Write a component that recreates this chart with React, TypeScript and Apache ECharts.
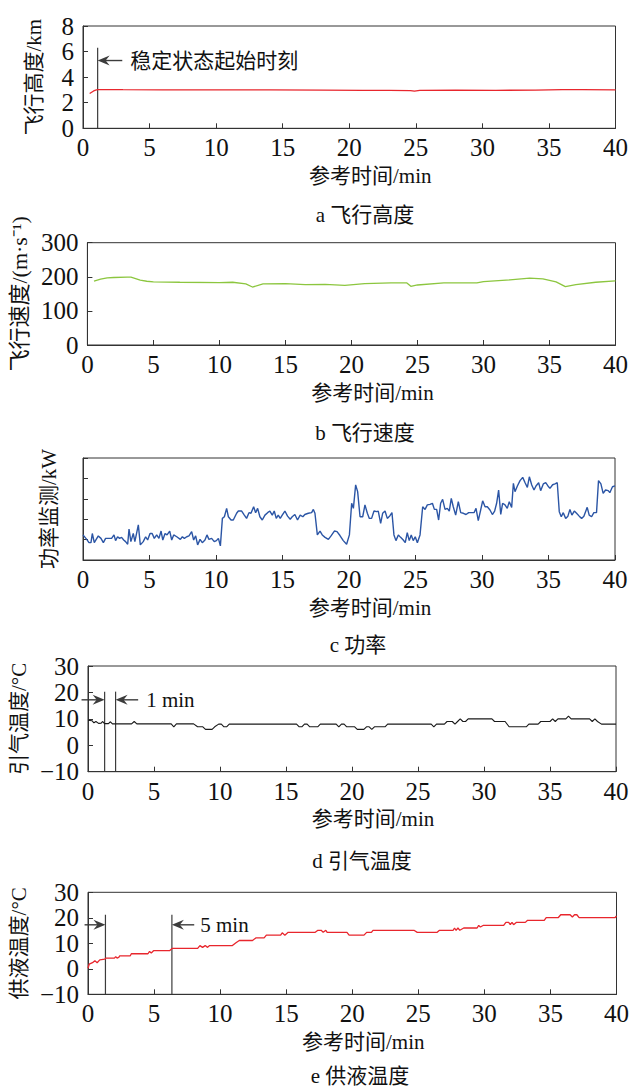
import { useEffect, useRef } from "react";
import * as echarts from "echarts";

// ---------- data ----------
const altT = [0.5, 0.65, 0.8, 0.95, 1.1, 1.5, 3, 6, 10, 14, 18, 21, 23, 24.6, 24.9, 25.3, 28, 31, 34, 36, 37.5, 40];
const altV = [2.72, 2.82, 2.92, 2.99, 3.02, 3.03, 3.02, 3.01, 3.0, 3.0, 2.99, 2.97, 2.96, 2.95, 2.9, 2.97, 2.98, 2.97, 2.99, 3.02, 3.03, 3.0];

const spdT = [0.5, 1.0, 1.5, 2, 3, 3.3, 4, 4.5, 5, 7, 10, 11, 12, 12.5, 13.3, 15, 16.5, 18, 19.5, 21, 23, 24.2, 24.5, 25, 27, 29.5, 30, 32, 33.5, 34.5, 35.5, 36.2, 37, 38.5, 40];
const spdV = [187, 193, 197, 198, 199, 199, 190, 187, 185, 184, 183, 184, 179, 170, 179, 180, 177, 178, 175, 180, 182, 182, 172, 176, 182, 182, 186, 191, 196, 194, 185, 171, 177, 184, 188];

const powT = [0, 0.28, 0.45, 0.6, 0.7, 0.85, 1.15, 1.35, 1.53, 1.7, 2.15, 2.33, 2.45, 2.6, 2.75, 2.9, 3.06, 3.2, 3.36, 3.46, 3.6, 3.78, 3.9, 4.16, 4.31, 4.53, 4.71, 4.86, 5.04, 5.2, 5.36, 5.54, 5.71, 5.87, 6.0, 6.17, 6.32, 6.52, 6.67, 6.82, 7.05, 7.32, 7.47, 7.62, 7.8, 7.97, 8.17, 8.32, 8.47, 8.62, 8.8, 8.97, 9.17, 9.32, 9.47, 9.67, 9.87, 10.03, 10.18, 10.33, 10.48, 10.63, 10.8, 10.93, 11.13, 11.3, 11.55, 11.68, 11.93, 12.13, 12.3, 12.48, 12.63, 12.83, 12.98, 13.13, 13.3, 13.48, 13.68, 13.88, 14.05, 14.23, 14.38, 14.53, 14.68, 14.83, 14.98, 15.18, 15.38, 15.58, 15.73, 15.93, 16.13, 16.33, 16.53, 16.68, 16.94, 17.19, 17.32, 17.44, 17.62, 17.82, 17.99, 18.2, 18.45, 18.65, 18.9, 19.1, 19.32, 19.57, 19.82, 20.03, 20.2, 20.33, 20.5, 20.65, 20.83, 21.03, 21.2, 21.38, 21.53, 21.7, 21.88, 22.08, 22.2, 22.38, 22.53, 22.71, 22.88, 23.08, 23.23, 23.38, 23.53, 23.71, 23.88, 24.08, 24.23, 24.38, 24.53, 24.68, 24.83, 24.98, 25.14, 25.34, 25.54, 25.72, 25.89, 26.09, 26.27, 26.42, 26.59, 26.74, 26.89, 27.04, 27.22, 27.39, 27.54, 27.69, 27.84, 28.02, 28.22, 28.4, 28.6, 28.8, 29.0, 29.22, 29.4, 29.55, 29.72, 29.9, 30.05, 30.23, 30.4, 30.6, 30.78, 30.95, 31.1, 31.25, 31.41, 31.55, 31.73, 31.9, 32.05, 32.23, 32.36, 32.48, 32.66, 32.86, 33.06, 33.24, 33.41, 33.56, 33.74, 33.91, 34.06, 34.26, 34.41, 34.61, 34.79, 34.96, 35.11, 35.31, 35.49, 35.66, 35.81, 35.96, 36.11, 36.29, 36.46, 36.61, 36.76, 36.94, 37.11, 37.31, 37.49, 37.66, 37.91, 38.06, 38.24, 38.41, 38.61, 38.76, 38.94, 39.11, 39.29, 39.49, 39.61, 39.81, 40];
const powV = [1.23, 1.01, 0.85, 0.85, 1.3, 0.85, 1.18, 1.06, 0.85, 1.06, 1.06, 1.23, 0.95, 1.14, 1.06, 1.11, 0.98, 0.9, 0.77, 1.52, 0.9, 1.3, 0.9, 1.72, 0.74, 0.9, 1.14, 0.98, 1.3, 1.3, 1.06, 1.23, 1.06, 1.42, 0.98, 1.3, 1.23, 1.42, 0.98, 1.23, 1.14, 1.01, 1.14, 1.06, 1.14, 1.18, 1.39, 0.98, 1.18, 0.74, 1.01, 0.85, 0.98, 1.23, 1.01, 1.06, 0.9, 0.95, 1.06, 0.69, 2.04, 2.12, 2.53, 2.12, 1.96, 1.96, 2.29, 2.4, 2.4, 2.2, 2.04, 2.32, 2.29, 2.61, 2.32, 2.53, 2.12, 1.96, 2.2, 2.32, 2.4, 2.2, 2.4, 2.04, 2.2, 2.04, 2.2, 2.4, 2.15, 2.0, 2.12, 2.23, 1.96, 2.2, 2.12, 2.23, 2.29, 2.32, 2.48, 2.29, 1.23, 1.42, 1.23, 1.11, 1.01, 1.18, 1.42, 1.39, 1.2, 0.95, 0.77, 1.23, 2.78, 2.53, 3.68, 3.35, 2.12, 2.12, 2.7, 2.29, 2.04, 2.04, 2.4, 2.37, 2.4, 1.8, 2.29, 2.4, 2.04, 2.17, 2.32, 1.23, 0.95, 1.23, 1.11, 0.98, 0.85, 1.34, 0.95, 1.23, 0.95, 1.14, 0.85, 1.23, 2.61, 2.48, 2.7, 2.73, 2.78, 2.48, 2.48, 1.96, 2.78, 2.97, 2.48, 2.53, 2.4, 3.02, 2.61, 2.2, 2.86, 2.32, 2.29, 2.23, 2.32, 2.32, 2.32, 2.53, 1.93, 2.45, 2.9, 2.61, 2.61, 2.45, 2.23, 2.4, 2.78, 3.43, 2.23, 2.78, 2.7, 2.53, 2.86, 2.58, 3.76, 3.35, 3.63, 3.89, 4.05, 3.79, 3.56, 4.08, 3.68, 3.43, 3.63, 3.79, 3.4, 3.73, 3.79, 3.63, 3.51, 3.69, 3.73, 3.79, 2.37, 2.12, 2.32, 2.04, 2.15, 2.48, 2.2, 2.4, 2.29, 2.15, 2.04, 2.15, 2.58, 2.2, 2.12, 2.32, 2.32, 3.89, 3.73, 3.27, 3.43, 3.4, 3.3, 3.59, 3.63];

const bleedT = [0, 0.3, 0.45, 0.6, 0.8, 1.0, 1.1, 1.25, 1.55, 1.7, 1.85, 3.3, 3.5, 3.7, 6.3, 6.5, 6.7, 8.0, 8.3, 8.7, 8.9, 9.4, 9.6, 9.9, 10.1, 10.3, 10.5, 10.7, 15.8, 16.0, 16.2, 16.4, 16.6, 16.8, 17.4, 17.6, 18.8, 19.0, 19.2, 19.4, 19.6, 20.2, 20.4, 20.9, 21.1, 21.3, 21.5, 21.7, 22.5, 22.7, 26.0, 26.2, 26.4, 27.0, 27.2, 27.6, 27.8, 28.0, 28.2, 28.4, 28.6, 28.8, 30.6, 30.8, 31.6, 31.9, 33.2, 33.4, 34.1, 34.3, 35.0, 35.2, 35.4, 35.6, 36.2, 36.4, 36.6, 38.0, 38.2, 38.4, 38.6, 38.9, 40];
const bleedV = [9.5, 9.3, 8.5, 9.0, 8.3, 8.4, 9.0, 8.2, 8.2, 8.9, 8.1, 8.1, 9.0, 8.1, 8.1, 7.0, 8.1, 8.1, 7.0, 7.0, 6.0, 6.0, 7.0, 8.0, 8.0, 7.0, 7.0, 8.0, 8.0, 7.0, 7.0, 8.0, 8.0, 7.0, 7.0, 8.0, 8.0, 7.0, 8.0, 8.0, 7.0, 7.0, 6.0, 6.0, 7.0, 7.0, 6.0, 7.0, 7.0, 8.0, 8.0, 7.0, 8.0, 8.0, 9.0, 9.0, 8.0, 9.0, 10.0, 9.0, 9.0, 10.0, 10.0, 9.0, 9.0, 7.0, 7.0, 8.0, 8.0, 9.0, 9.0, 10.0, 9.0, 10.0, 10.0, 11.0, 10.0, 10.0, 9.0, 10.0, 9.0, 8.0, 8.0];

const supT = [0, 0.09, 0.34, 0.52, 0.69, 0.89, 1.27, 1.35, 2.0, 2.1, 2.2, 2.35, 2.4, 3.2, 3.28, 4.54, 4.66, 4.79, 4.96, 6.17, 6.37, 8.3, 8.47, 8.67, 8.87, 9.05, 9.2, 10.93, 11.2, 11.45, 12.45, 12.7, 13.33, 13.5, 14.58, 14.7, 14.9, 15.15, 17.2, 17.4, 17.65, 17.8, 18.0, 18.1, 19.6, 19.76, 20.89, 21.09, 21.45, 21.57, 24.67, 24.92, 26.43, 26.6, 27.64, 27.74, 27.86, 28.0, 28.14, 28.44, 29.45, 29.57, 29.7, 29.9, 31.46, 31.63, 31.84, 31.96, 32.09, 32.21, 32.41, 33.1, 33.27, 34.53, 34.68, 35.6, 35.78, 36.49, 36.66, 36.82, 37.0, 37.17, 39.9, 40];
const supV = [0.2, 1.8, 2.4, 3.2, 2.4, 3.5, 3.8, 4.2, 4.2, 4.8, 4.2, 4.6, 5.1, 5.1, 5.9, 5.9, 6.8, 6.2, 7.1, 7.1, 8.0, 8.0, 9.1, 8.4, 9.1, 8.4, 9.1, 9.1, 10.2, 11.1, 11.1, 12.1, 12.1, 13.2, 13.2, 14.1, 13.2, 14.3, 14.3, 15.1, 15.1, 14.3, 15.1, 14.3, 14.3, 13.2, 13.2, 14.3, 14.3, 15.1, 15.1, 14.3, 14.3, 15.1, 15.1, 16.0, 15.1, 16.0, 15.1, 16.0, 16.0, 17.0, 16.4, 17.0, 17.0, 18.2, 18.2, 17.3, 18.2, 17.3, 18.2, 18.2, 19.0, 19.0, 20.1, 20.1, 21.2, 21.2, 20.3, 21.2, 21.2, 20.1, 20.1, 20.7];

const xTitle = "参考时间/min";
const yTitles = ["飞行高度/km", "飞行速度/(m·s⁻¹)", "功率监测/kW", "引气温度/°C", "供液温度/°C"];
const captions = ["a 飞行高度", "b 飞行速度", "c 功率", "d 引气温度", "e 供液温度"];
const yMin = [0, 0, 0, -10, -10];
const yMax = [8, 300, 5, 30, 30];
const yInterval = [2, 100, 1, 10, 10];
const lineColors = ["#e8262d", "#8cc63f", "#2b55a5", "#1a1a1a", "#e8262d"];

// annotations (values in data units)
const stableStart = 1.1;
const bleedMarks = [1.26, 2.09];
const supplyMarks = [1.32, 6.35];

const zip = (t: number[], v: number[]) => t.map((x, i) => [x, v[i]]);
const seriesData = [zip(altT, altV), zip(spdT, spdV), zip(powT, powV), zip(bleedT, bleedV), zip(supT, supV)];

// ---------- layout ----------
const grids = [
  { left: 83, top: 26, width: 532.5, height: 102.3 },
  { left: 84, top: 242.7, width: 531.5, height: 102.3 },
  { left: 83, top: 458, width: 532, height: 102 },
  { left: 84.5, top: 666, width: 531.5, height: 105.7 },
  { left: 86.5, top: 892.3, width: 530, height: 102 },
];
const yNameGap = [39, 46, 24, 50, 47];
const yNameSize = [21, 22, 21, 21, 21];
const xNameShift = [42, 42, 42, 42, 22];
const captionPos = [
  [365, 215],
  [365, 433],
  [358, 645],
  [362, 861],
  [360, 1076],
];

const SERIF = "'Liberation Serif', 'Times New Roman', serif";
const MIXED = "'Liberation Serif', 'Noto Sans CJK SC', serif";
const AX = "#333333";
const ANN = "#3c3c3c";

export default function App() {
  const ref = useRef<HTMLDivElement>(null);

  useEffect(() => {
    document.body.style.margin = "0";
    const chart = echarts.init(ref.current!, null, { renderer: "svg" });

    const option: any = {
      animation: false,
      backgroundColor: "#ffffff",
      grid: grids.map((g) => ({ ...g, show: true, borderColor: AX, borderWidth: 1, containLabel: false })),
      xAxis: grids.map((_, i) => ({
        type: "value",
        gridIndex: i,
        min: 0,
        max: 40,
        interval: 5,
        name: xTitle,
        nameLocation: "middle",
        nameGap: 37,
        nameTextStyle: { fontFamily: MIXED, fontSize: 21, color: "#111", padding: [0, 0, 0, xNameShift[i]] },
        axisLine: { show: true, onZero: false, lineStyle: { color: AX, width: 1 } },
        axisTick: { show: true, inside: true, length: 5, lineStyle: { color: AX } },
        axisLabel: { fontFamily: SERIF, fontSize: 25, color: "#111", margin: 7, showMinLabel: true, showMaxLabel: true },
        splitLine: { show: false },
      })),
      yAxis: grids.map((_, i) => ({
        type: "value",
        gridIndex: i,
        min: yMin[i],
        max: yMax[i],
        interval: yInterval[i],
        name: yTitles[i],
        nameLocation: "middle",
        nameRotate: 90,
        nameGap: yNameGap[i],
        nameTextStyle: { fontFamily: MIXED, fontSize: yNameSize[i], color: "#111" },
        axisLine: { show: true, onZero: false, lineStyle: { color: AX, width: 1 } },
        axisTick: { show: true, inside: true, length: 5, lineStyle: { color: AX } },
        axisLabel: {
          show: i !== 2,
          fontFamily: SERIF,
          fontSize: 25,
          color: "#111",
          margin: 9,
          formatter: (v: number) => String(v).replace("-", "−"),
        },
        splitLine: { show: false },
      })),
      series: seriesData.map((d, i) => ({
        type: "line",
        xAxisIndex: i,
        yAxisIndex: i,
        data: d,
        showSymbol: false,
        symbol: "none",
        lineStyle: { color: lineColors[i], width: i === 2 ? 1.4 : i === 3 ? 1.1 : 1.3 },
        clip: true,
      })),
      graphic: captions.map((c, i) => ({
        type: "text",
        x: captionPos[i][0],
        y: captionPos[i][1],
        style: { text: c, font: `21px ${MIXED}`, fill: "#111", align: "center", verticalAlign: "middle" },
      })),
    };
    chart.setOption(option);

    const P = (i: number, x: number, y: number) =>
      chart.convertToPixel({ xAxisIndex: i, yAxisIndex: i }, [x, y]) as number[];
    const vline = (i: number, x: number, y0: number, y1: number) => {
      const a = P(i, x, y0);
      const b = P(i, x, y1);
      return { type: "line", shape: { x1: a[0], y1: a[1], x2: b[0], y2: b[1] }, style: { stroke: ANN, lineWidth: 1.2 } };
    };
    // arrow from pixel fx to tip tx at pixel y
    const arrow = (fx: number, tx: number, y: number) => {
      const dir = tx > fx ? 1 : -1;
      const L = 12, H = 5;
      return [
        { type: "line", shape: { x1: fx, y1: y, x2: tx - dir * 6, y2: y }, style: { stroke: ANN, lineWidth: 1.4 } },
        {
          type: "polygon",
          shape: { points: [[tx, y], [tx - dir * L, y - H], [tx - dir * 8, y], [tx - dir * L, y + H]] },
          style: { fill: ANN },
        },
      ];
    };
    const label = (x: number, y: number, text: string) => ({
      type: "text",
      x,
      y,
      style: { text, font: `21px ${MIXED}`, fill: "#111", align: "left", verticalAlign: "middle" },
    });

    const ann: any[] = [];
    // panel a
    {
      ann.push(vline(0, stableStart, 0, 6.3));
      const tip = P(0, stableStart, 5.3);
      const from = P(0, 2.95, 5.3);
      ann.push(...arrow(from[0], tip[0], tip[1]));
      ann.push(label(from[0] + 8, tip[1], "稳定状态起始时刻"));
    }
    // panel d
    {
      ann.push(vline(3, bleedMarks[0], -10, 20.3));
      ann.push(vline(3, bleedMarks[1], -10, 20.3));
      const t1 = P(3, bleedMarks[0], 17.2);
      const t2 = P(3, bleedMarks[1], 17.2);
      const f1 = P(3, -0.49, 17.2);
      const f2 = P(3, 3.8, 17.2);
      ann.push(...arrow(f1[0], t1[0], t1[1]));
      ann.push(...arrow(f2[0], t2[0], t2[1]));
      ann.push(label(f2[0] + 8, t2[1], "1 min"));
    }
    // panel e
    {
      ann.push(vline(4, supplyMarks[0], -10, 21.2));
      ann.push(vline(4, supplyMarks[1], -10, 21.2));
      const t1 = P(4, supplyMarks[0], 17.25);
      const t2 = P(4, supplyMarks[1], 17.25);
      const f1 = P(4, -0.26, 17.25);
      const f2 = P(4, 8.04, 17.25);
      ann.push(...arrow(f1[0], t1[0], t1[1]));
      ann.push(...arrow(f2[0], t2[0], t2[1]));
      ann.push(label(f2[0] + 6, t2[1], "5 min"));
    }

    chart.setOption({ graphic: [...option.graphic, ...ann] }, { replaceMerge: ["graphic"] });

    return () => chart.dispose();
  }, []);

  return <div ref={ref} style={{ width: 632, height: 1088 }} />;
}
